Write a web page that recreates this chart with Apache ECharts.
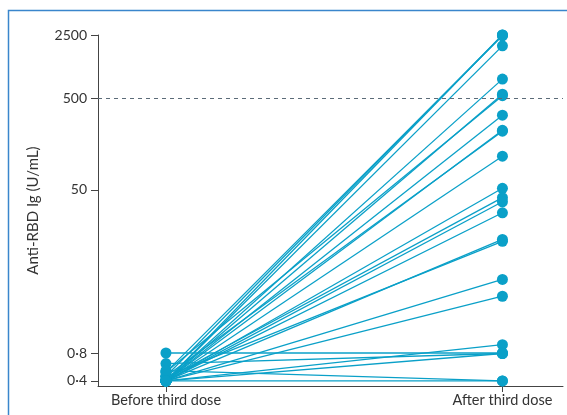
<!DOCTYPE html>
<html>
<head>
<meta charset="utf-8">
<script src="https://cdn.jsdelivr.net/npm/echarts@6/dist/echarts.min.js"></script>
<style>
html,body{margin:0;padding:0;background:#fff;}
#chart{width:567px;height:415px;}
</style>
</head>
<body>
<div id="chart"></div>
<script>
// Data
var categories = ['Before third dose', 'After third dose'];
var beforeDose = [0.4, 0.5, 0.45, 0.4, 0.4, 0.4, 0.5, 0.4, 0.4, 0.45, 0.4, 0.4, 0.42, 0.4, 0.4, 0.4, 0.45, 0.4, 0.4, 0.4, 0.4, 0.81, 0.62, 0.52, 0.4];
var afterDose  = [2500, 2450, 2500, 1900, 820, 560, 540, 330, 225, 220, 117, 52, 41, 37, 28, 14.3, 13.6, 5.2, 3.4, 1.0, 0.8, 0.81, 0.8, 0.4, 0.4];
var yTicks = [0.4, 0.8, 50, 500, 2500];
var thresholdValue = 500;

var color = '#0aa0c8';
var series = [];
var points = [];
for (var i = 0; i < beforeDose.length; i++) {
  series.push({
    type: 'line',
    data: [[0, beforeDose[i]], [1, afterDose[i]]],
    symbol: 'none',
    lineStyle: {color: color, width: 1.3},
    z: 2,
    silent: true,
    animation: false
  });
  points.push([0, beforeDose[i]], [1, afterDose[i]]);
}
series.push({
  type: 'scatter',
  data: points,
  symbol: 'circle',
  symbolSize: 11,
  itemStyle: {color: color, opacity: 1},
  z: 3,
  silent: true,
  animation: false
});
series.push({
  type: 'line',
  data: [],
  silent: true,
  animation: false,
  markLine: {
    silent: true,
    symbol: 'none',
    label: {show: false},
    lineStyle: {color: '#5b6b78', type: [4, 4], width: 1},
    data: [{yAxis: thresholdValue}]
  }
});

var chart = echarts.init(document.getElementById('chart'));
chart.setOption({
  animation: false,
  textStyle: {fontFamily: 'Lato'},
  graphic: [{
    type: 'polyline',
    shape: {points: [[8.5, 415], [8.5, 10.5], [567, 10.5]]},
    style: {stroke: '#3a86cc', lineWidth: 1.5, fill: null}
  }],
  grid: {left: 98, right: 4, top: 35, bottom: 29},
  xAxis: {
    type: 'value',
    min: -0.202,
    max: 1.18,
    splitLine: {show: false},
    axisLine: {show: true, onZero: false, lineStyle: {color: '#444', width: 1}},
    axisTick: {show: true, length: 6, customValues: [0, 1], lineStyle: {color: '#444'}},
    axisLabel: {
      customValues: [0, 1],
      fontSize: 14.5,
      color: '#333',
      margin: 7,
      formatter: function (v) { return categories[Math.round(v)]; }
    }
  },
  yAxis: {
    type: 'log',
    logBase: 10,
    min: 0.352,
    max: 2500,
    name: 'Anti-RBD Ig (U/mL)',
    nameLocation: 'middle',
    nameGap: 57,
    nameTextStyle: {fontSize: 15, color: '#333'},
    splitLine: {show: false},
    axisLine: {show: true, onZero: false, lineStyle: {color: '#444', width: 1}},
    axisTick: {show: true, length: 7, customValues: yTicks, lineStyle: {color: '#444'}},
    axisLabel: {
      customValues: yTicks,
      fontSize: 14,
      color: '#333',
      margin: 11,
      formatter: function (v) { return String(v).replace('.', '\u00b7'); }
    }
  },
  series: series
});
</script>
</body>
</html>
